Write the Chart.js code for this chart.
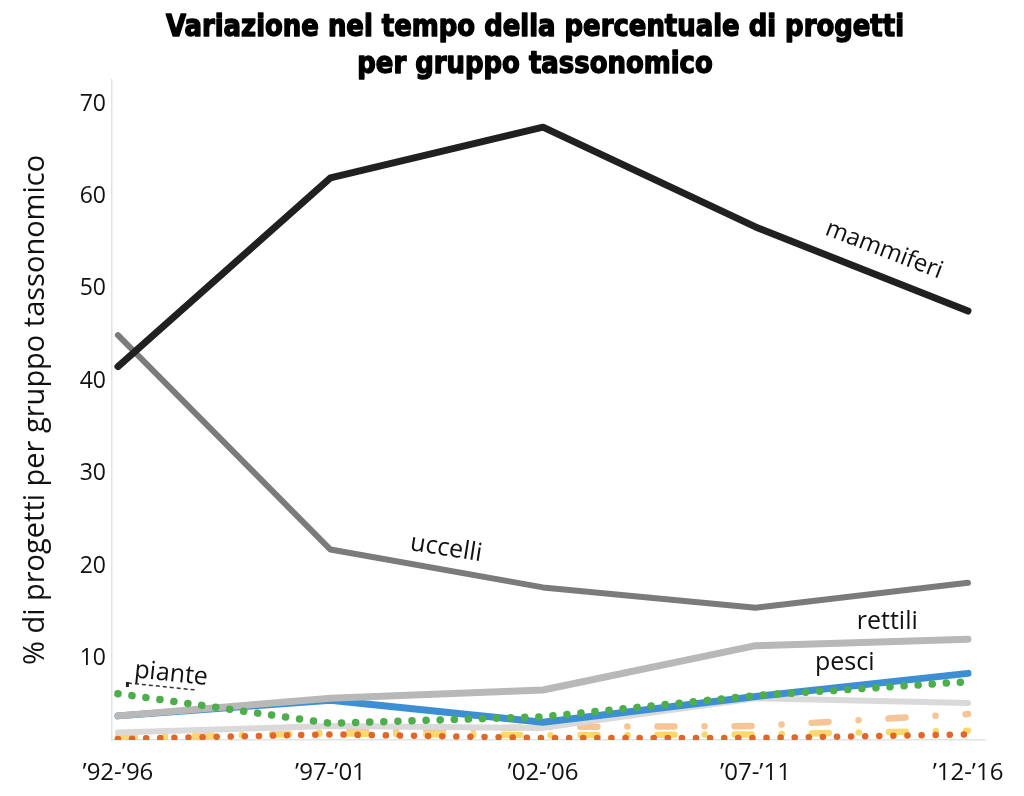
<!DOCTYPE html>
<html><head><meta charset="utf-8">
<script src="https://cdn.jsdelivr.net/npm/chart.js@4"></script>
<style>html,body{margin:0;padding:0;background:#fff;}#wrap{width:1024px;height:796px;position:relative;}</style>
</head><body><div id="wrap"><canvas id="c"></canvas></div>
<script>
// ---- data ----
const categories = ["’92-’96", "’97-’01", "’02-’06", "’07-’11", "’12-’16"];
const yTickValues = [10, 20, 30, 40, 50, 60, 70];
const mammiferi = [41.6, 62.0, 67.5, 56.7, 47.6];
const uccelli = [45.0, 21.8, 17.7, 15.5, 18.2];
const rettili = [3.8, 5.7, 6.6, 11.4, 12.1];
const pesci = [3.8, 5.5, 3.1, 5.9, 8.4];
const piante = [6.2, 3.0, 3.7, 6.0, 7.5];
const anfibi = [2.0, 2.7, 2.5, 5.7, 5.2];
const invertebrati = [1.3, 2.0, 2.6, 2.7, 4.0];
const funghi = [1.5, 1.9, 1.7, 1.8, 2.2];
const altri = [1.3, 1.8, 1.4, 1.4, 1.8];
const titleLines = ["Variazione nel tempo della percentuale di progetti", "per gruppo tassonomico"];
const yAxisTitle = "% di progetti per gruppo tassonomico";
const seriesLabels = ["mammiferi", "uccelli", "rettili", "pesci", "piante"];

// ---- annotation placement (in data units) ----
const labelConfig = [
  {text: seriesLabels[0], x: 3.605, y: 54.2, rot: 21, size: 24},
  {text: seriesLabels[1], x: 1.544, y: 21.9, rot: 9, size: 25},
  {text: seriesLabels[2], x: 3.62, y: 13.96, rot: 0, size: 25},
  {text: seriesLabels[3], x: 3.42, y: 9.5, rot: 0, size: 25},
  {text: seriesLabels[4], x: 0.25, y: 8.33, rot: 6, size: 25}
];
const leader = {x1: 0.047, y1: 7.36, x2: 0.367, y2: 6.6};

const pts = arr => arr.map((v, i) => ({x: i, y: v}));
const base = {fill: false, pointRadius: 0, pointHoverRadius: 0, tension: 0, borderJoinStyle: 'round', borderCapStyle: 'round'};

const datasets = [
  Object.assign({}, base, {label: 'mammiferi', data: pts(mammiferi), borderColor: '#202020', borderWidth: 7, order: 1}),
  Object.assign({}, base, {label: 'uccelli', data: pts(uccelli), borderColor: '#7b7b7b', borderWidth: 6, order: 2}),
  Object.assign({}, base, {label: 'piante', data: pts(piante), borderColor: '#4fae4c', borderWidth: 7.5, borderDash: [0.1, 14], order: 3}),
  Object.assign({}, base, {label: 'rettili', data: pts(rettili), borderColor: '#b8b8b8', borderWidth: 7, order: 4}),
  Object.assign({}, base, {label: 'pesci', data: pts(pesci), borderColor: '#3b8fd2', borderWidth: 7, order: 5}),
  Object.assign({}, base, {label: 'anfibi', data: pts(anfibi), borderColor: '#d9d9d9', borderWidth: 6, order: 6}),
  Object.assign({}, base, {label: 'altri', data: pts(altri), borderColor: '#e0672b', borderWidth: 6.5, borderDash: [0.1, 14], order: 7}),
  Object.assign({}, base, {label: 'funghi', data: pts(funghi), borderColor: '#fad86c', borderWidth: 6.5, borderDash: [17, 30, 0.1, 30], order: 8}),
  Object.assign({}, base, {label: 'invertebrati', data: pts(invertebrati), borderColor: '#f6c597', borderWidth: 6.5, borderDash: [17, 30, 0.1, 30], order: 9})
];

const textPlugin = {
  id: 'texts',
  afterDraw(chart) {
    const ctx = chart.ctx;
    const xs = chart.scales.x, ys = chart.scales.y;
    // title
    ctx.save();
    ctx.fillStyle = '#000';
    ctx.strokeStyle = '#000';
    ctx.lineWidth = 1.4;
    ctx.lineJoin = 'round';
    ctx.font = 'bold 31px "Liberation Sans Narrow", "DejaVu Sans Condensed", "Noto Sans", sans-serif';
    ctx.textAlign = 'center';
    ctx.textBaseline = 'alphabetic';
    const w1 = ctx.measureText(titleLines[0]).width;
    const sx = 738 / w1;
    const baselines = [36, 73];
    titleLines.forEach((t, i) => {
      ctx.save();
      ctx.translate(535, baselines[i]);
      ctx.scale(sx, 1);
      ctx.fillText(t, 0, 0);
      ctx.strokeText(t, 0, 0);
      ctx.restore();
    });
    ctx.restore();
    // series labels
    labelConfig.forEach(l => {
      ctx.save();
      ctx.translate(xs.getPixelForValue(l.x), ys.getPixelForValue(l.y));
      ctx.rotate(l.rot * Math.PI / 180);
      ctx.font = l.size + 'px "Open Sans", sans-serif';
      ctx.fillStyle = '#111';
      ctx.textAlign = 'center';
      ctx.textBaseline = 'middle';
      ctx.fillText(l.text, 0, 0);
      ctx.restore();
    });
    // leader for piante
    ctx.save();
    ctx.strokeStyle = '#333';
    ctx.lineWidth = 1.5;
    ctx.setLineDash([4, 3]);
    ctx.beginPath();
    const ax = xs.getPixelForValue(leader.x1), ay = ys.getPixelForValue(leader.y1);
    ctx.moveTo(ax, ay);
    ctx.lineTo(xs.getPixelForValue(leader.x2), ys.getPixelForValue(leader.y2));
    ctx.stroke();
    ctx.setLineDash([]);
    ctx.fillStyle = '#222';
    ctx.fillRect(ax - 2, ay - 1, 3, 5);
    ctx.restore();
  }
};

new Chart(document.getElementById('c'), {
  type: 'line',
  data: {datasets},
  options: {
    responsive: true,
    maintainAspectRatio: false,
    animation: false,
    events: [],
    layout: {padding: {top: 80, right: 39, left: 0, bottom: 0}},
    plugins: {legend: {display: false}, tooltip: {enabled: false}, title: {display: false}},
    scales: {
      x: {
        type: 'linear', min: -0.028, max: 4.08,
        grid: {display: false, drawTicks: false},
        border: {display: true, color: '#e3e3e3', width: 1.5},
        afterBuildTicks: s => { s.ticks = categories.map((c, i) => ({value: i})); },
        afterFit: s => { s.height = 56; },
        ticks: {
          autoSkip: false, maxRotation: 0, padding: 19, color: '#111',
          font: {family: '"Open Sans", sans-serif', size: 24},
          callback: v => categories[v]
        }
      },
      y: {
        min: 1.19, max: 72.6,
        grid: {display: false, drawTicks: false},
        border: {display: true, color: '#e3e3e3', width: 1.5},
        afterBuildTicks: s => { s.ticks = yTickValues.map(v => ({value: v})); },
        afterFit: s => { s.width = 112; },
        ticks: {padding: 6, color: '#111', font: {family: '"Open Sans", sans-serif', size: 23}},
        title: {display: true, text: yAxisTitle, color: '#111', padding: {top: 18, bottom: 0},
          font: {family: '"Open Sans", sans-serif', size: 29}}
      }
    }
  },
  plugins: [textPlugin]
});
</script>
</body></html>
